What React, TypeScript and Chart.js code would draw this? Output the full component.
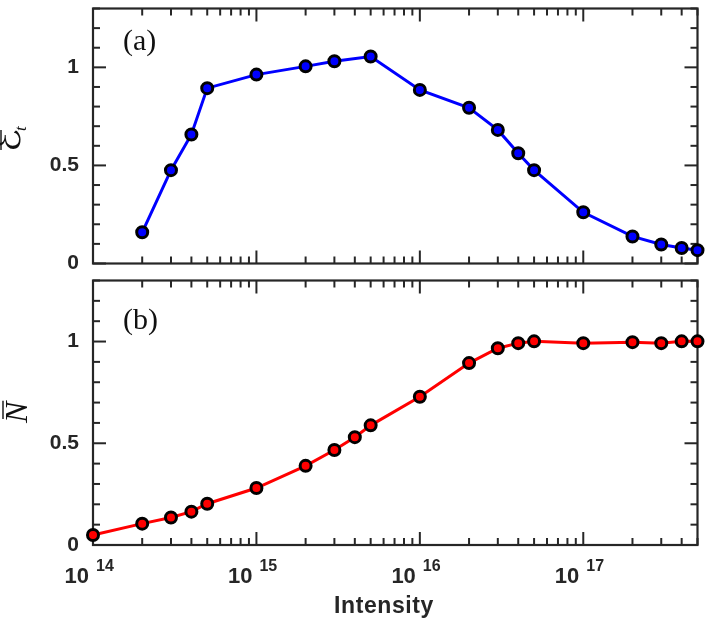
import React, { useEffect, useRef } from "react";
import { Chart, registerables } from "chart.js";

Chart.register(...registerables);

// ---- data ----
const intensityA = [2e14, 3e14, 4e14, 5e14, 1e15, 2e15, 3e15, 5e15, 1e16, 2e16, 3e16, 4e16, 5e16, 1e17, 2e17, 3e17, 4e17, 5e17];
const energyA = [0.159, 0.476, 0.658, 0.894, 0.963, 1.005, 1.031, 1.055, 0.885, 0.794, 0.681, 0.562, 0.476, 0.261, 0.138, 0.097, 0.079, 0.068];

const intensityB = [1e14, 2e14, 3e14, 4e14, 5e14, 1e15, 2e15, 3e15, 4e15, 5e15, 1e16, 2e16, 3e16, 4e16, 5e16, 1e17, 2e17, 3e17, 4e17, 5e17];
const numberB = [0.049, 0.105, 0.135, 0.164, 0.203, 0.28, 0.389, 0.467, 0.53, 0.588, 0.729, 0.894, 0.967, 0.992, 1.001, 0.992, 0.997, 0.992, 1.001, 1.001];

const xTickExponents = [14, 15, 16, 17];
const yTickLabels = [0, 0.5, 1];
const X_MIN = 1e14;
const X_MAX = 5e17;
const Y_MIN = 0;
const Y_MAX = 1.3;
const X_TITLE = "Intensity";

const AXIS_COLOR = "#262626";
const TEXT_COLOR = "#111111";

const decorPlugin = {
  id: "decor",
  beforeDatasetsDraw(chart: any) {
    const { ctx, chartArea, scales } = chart;
    const { left, right, top, bottom } = chartArea;
    const x = scales.x;
    const y = scales.y;
    ctx.save();
    ctx.strokeStyle = AXIS_COLOR;
    ctx.lineWidth = 2.2;
    ctx.lineCap = "butt";
    ctx.strokeRect(left, top, right - left, bottom - top);
    const seg = (x1: number, y1: number, x2: number, y2: number) => {
      ctx.beginPath();
      ctx.moveTo(x1, y1);
      ctx.lineTo(x2, y2);
      ctx.stroke();
    };
    ctx.lineWidth = 2;
    for (const e of xTickExponents) {
      for (let m = 1; m <= 9; m++) {
        const v = m * Math.pow(10, e);
        if (v > X_MAX * 1.0001) break;
        const px = x.getPixelForValue(v);
        const len = m === 1 ? 13 : 7;
        seg(px, bottom, px, bottom - len);
        seg(px, top, px, top + len);
      }
    }
    for (let i = 0; i <= 13; i++) {
      const v = i / 10;
      const py = y.getPixelForValue(v);
      const len = i % 5 === 0 ? 13 : 7;
      seg(left, py, left + len, py);
      seg(right, py, right - len, py);
    }
    ctx.restore();
  },
  afterDraw(chart: any, _args: any, opts: any) {
    const { ctx, chartArea, scales } = chart;
    const x = scales.x;
    ctx.save();
    ctx.fillStyle = TEXT_COLOR;
    ctx.font = '30px "Liberation Serif", "DejaVu Serif", serif';
    ctx.textAlign = "left";
    ctx.textBaseline = "alphabetic";
    ctx.fillText(opts.panel, 123, opts.panelBaseline);

    ctx.save();
    ctx.translate(opts.titleX, opts.titleY);
    ctx.rotate(-Math.PI / 2);
    ctx.font = opts.titleFont;
    ctx.fillText(opts.title, 0, 0);
    const w = ctx.measureText(opts.title).width;
    if (opts.sub) {
      ctx.font = 'italic 17px "Liberation Serif", "DejaVu Serif", serif';
      ctx.fillText(opts.sub, w - 2, 6);
    }
    ctx.strokeStyle = TEXT_COLOR;
    ctx.lineWidth = 1.4;
    ctx.beginPath();
    ctx.moveTo(opts.barFrom, opts.barV);
    ctx.lineTo(w + opts.barExtra, opts.barV);
    ctx.stroke();
    ctx.restore();

    if (opts.xLabels) {
      ctx.fillStyle = AXIS_COLOR;
      for (const e of xTickExponents) {
        const px = x.getPixelForValue(Math.pow(10, e));
        ctx.font = 'bold 22px "Liberation Sans", Arial, sans-serif';
        ctx.textAlign = "right";
        ctx.fillText("10", px - 4, chartArea.bottom + 38);
        ctx.font = 'bold 16px "Liberation Sans", Arial, sans-serif';
        ctx.textAlign = "left";
        ctx.fillText(String(e), px + 3, chartArea.bottom + 26);
      }
      ctx.font = 'bold 23px "Liberation Sans", Arial, sans-serif';
      ctx.textAlign = "center";
      (ctx as any).letterSpacing = "0.6px";
      ctx.fillText(X_TITLE, 384, chartArea.bottom + 68);
    }
    ctx.restore();
  },
};

function makeConfig(xs: number[], ys: number[], color: string, padding: any, decor: any): any {
  return {
    type: "line",
    data: {
      datasets: [
        {
          data: xs.map((v, i) => ({ x: v, y: ys[i] })),
          borderColor: color,
          borderWidth: 3,
          backgroundColor: color,
          pointBackgroundColor: color,
          pointBorderColor: "#000000",
          pointBorderWidth: 3,
          pointRadius: 5.5,
          tension: 0,
          clip: false,
        },
      ],
    },
    options: {
      responsive: false,
      animation: false,
      events: [],
      layout: { padding },
      plugins: {
        legend: { display: false },
        tooltip: { enabled: false },
        decor,
      },
      scales: {
        x: { type: "logarithmic", min: X_MIN, max: X_MAX, display: false },
        y: {
          type: "linear",
          min: Y_MIN,
          max: Y_MAX,
          position: "left",
          grid: { display: false, drawTicks: false },
          border: { display: false },
          ticks: {
            stepSize: 0.5,
            padding: 14,
            color: AXIS_COLOR,
            font: { family: '"Liberation Sans", Arial, sans-serif', weight: "bold", size: 21 },
            callback: (v: number) => (yTickLabels.some((t) => Math.abs(t - v) < 1e-9) ? String(v) : null),
          },
          afterFit: (s: any) => {
            s.width = 93;
            s.paddingTop = 0;
            s.paddingBottom = 0;
          },
        },
      },
    },
    plugins: [decorPlugin],
  };
}

export default function App() {
  const topRef = useRef<HTMLCanvasElement>(null);
  const botRef = useRef<HTMLCanvasElement>(null);

  useEffect(() => {
    const a = new Chart(
      topRef.current as HTMLCanvasElement,
      makeConfig(intensityA, energyA, "#0000ff", { left: 0, right: 6, top: 1.5, bottom: 3.7 }, {
        panel: "(a)",
        panelBaseline: 50,
        title: "\u2130",
        sub: "t",
        titleFont: '38px "DejaVu Sans", "DejaVu Serif", serif',
        titleX: 20,
        titleY: 152,
        barFrom: 2,
        barV: -19,
        barExtra: -1,
        xLabels: false,
      })
    );
    const b = new Chart(
      botRef.current as HTMLCanvasElement,
      makeConfig(intensityB, numberB, "#ff0000", { left: 0, right: 6, top: 5.7, bottom: 75 }, {
        panel: "(b)",
        panelBaseline: 57,
        title: "N",
        sub: "",
        titleFont: 'italic 32px "Liberation Serif", "DejaVu Serif", serif',
        titleX: 27,
        titleY: 151,
        barFrom: 4,
        barV: -24,
        barExtra: 1,
        xLabels: true,
      })
    );
    return () => {
      a.destroy();
      b.destroy();
    };
  }, []);

  return (
    <div style={{ position: "absolute", left: 0, top: 0, width: 706, height: 620, background: "#ffffff" }}>
      <canvas ref={topRef} width={706} height={272} style={{ position: "absolute", left: 0, top: 0, width: 706, height: 272 }} />
      <canvas ref={botRef} width={706} height={348} style={{ position: "absolute", left: 0, top: 272, width: 706, height: 348 }} />
    </div>
  );
}
